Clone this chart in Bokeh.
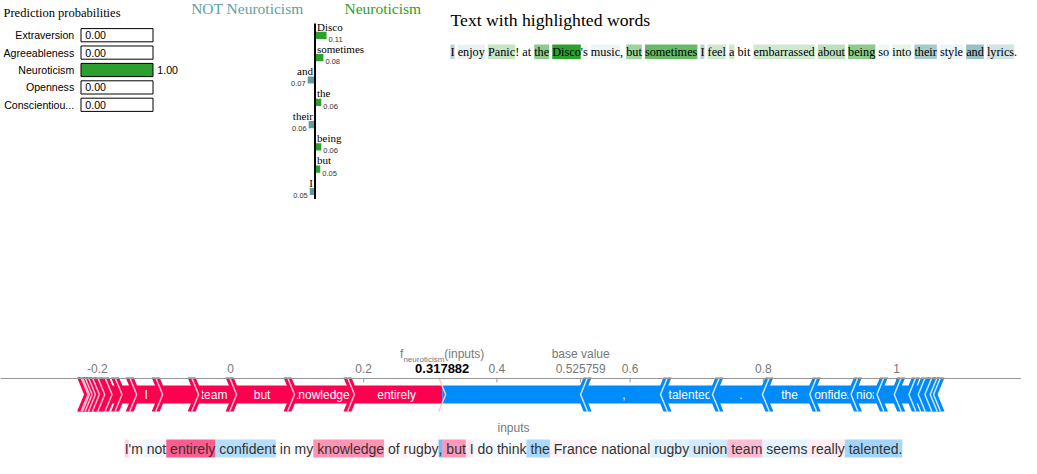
import re
from bokeh.plotting import figure
from bokeh.models import Range1d, Span
from bokeh.embed import file_html
from bokeh.resources import INLINE
from bokeh.core.properties import value

# ---------------- data ----------------
class_names = ["Extraversion", "Agreeableness", "Neuroticism", "Openness", "Conscientiousness"]
class_probs = [0.00, 0.00, 1.00, 0.00, 0.00]
class_colors = ["#1f77b4", "#ff7f0e", "#2ca02c", "#d62728", "#9467bd"]

lime_features = ["Disco", "sometimes", "and", "the", "their", "being", "but", "I"]
lime_weights = [0.11, 0.08, -0.07, 0.06, -0.06, 0.06, 0.05, -0.05]

lime_sentence = ("I enjoy Panic! at the Disco's music, but sometimes I feel a bit "
                 "embarrassed about being so into their style and lyrics.")
lime_text_words = ["I", "enjoy", "Panic", "the", "Disco", "s", "music", "but", "sometimes",
                   "feel", "a", "embarrassed", "about", "being", "so", "into", "their",
                   "style", "and", "lyrics"]
lime_text_weights = [-0.05, -0.015, 0.03, 0.06, 0.11, -0.01, -0.012, 0.05, 0.08,
                     0.025, 0.025, 0.025, 0.035, 0.06, -0.01, 0.012, -0.06,
                     -0.012, -0.07, -0.03]

shap_tokens = ["", "I", "'m", " not", " entirely", " confident", " in", " my", " knowledge",
               " of", " rugby", ",", " but", " I", " do", " think", " the", " France",
               " national", " rugby", " union", " team", " seems", " really", " talented", ".", ""]
shap_values = [0.054, 0.039, 0.006, -0.014, 0.137, -0.062, 0.002, 0.004, 0.090,
               0.005, 0.008, -0.120, 0.087, 0.022, -0.008, -0.010, -0.071, 0.011,
               -0.005, -0.026, -0.039, 0.057, -0.022, 0.015, -0.078, -0.075, -0.213]
shap_base_value = 0.525759
shap_fx = 0.317882
shap_output_name = "neuroticism"
shap_ticks = [-0.2, 0.0, 0.2, 0.4, 0.6, 0.8, 1.0]
shap_tick_labels = ["-0.2", "0", "0.2", "0.4", "0.6", "0.8", "1"]

# ---------------- font metrics (Times / Helvetica compatible) ----------------
TIMES = {' ': 250, '!': 333, "'": 180, ',': 250, '.': 250,
         'a': 444, 'b': 500, 'c': 444, 'd': 500, 'e': 444, 'f': 333, 'g': 500, 'h': 500,
         'i': 278, 'j': 278, 'k': 500, 'l': 278, 'm': 778, 'n': 500, 'o': 500, 'p': 500,
         'q': 500, 'r': 333, 's': 389, 't': 278, 'u': 500, 'v': 500, 'w': 722, 'x': 500,
         'y': 500, 'z': 444, 'A': 722, 'B': 667, 'C': 667, 'D': 722, 'E': 611, 'F': 556,
         'G': 722, 'H': 722, 'I': 333, 'J': 389, 'K': 722, 'L': 611, 'M': 889, 'N': 722,
         'O': 722, 'P': 556, 'Q': 722, 'R': 667, 'S': 556, 'T': 611, 'U': 722, 'V': 722,
         'W': 944, 'X': 722, 'Y': 722, 'Z': 611}
HELV = {' ': 278, '!': 278, "'": 191, ',': 278, '.': 278, '(': 333, ')': 333, '-': 333,
        'a': 556, 'b': 556, 'c': 500, 'd': 556, 'e': 556, 'f': 278, 'g': 556, 'h': 556,
        'i': 222, 'j': 222, 'k': 500, 'l': 222, 'm': 833, 'n': 556, 'o': 556, 'p': 556,
        'q': 556, 'r': 333, 's': 500, 't': 278, 'u': 556, 'v': 500, 'w': 722, 'x': 500,
        'y': 500, 'z': 500, 'A': 667, 'B': 667, 'C': 722, 'D': 722, 'E': 667, 'F': 611,
        'G': 778, 'H': 722, 'I': 278, 'J': 500, 'K': 667, 'L': 556, 'M': 833, 'N': 722,
        'O': 778, 'P': 667, 'Q': 778, 'R': 722, 'S': 667, 'T': 611, 'U': 722, 'V': 667,
        'W': 944, 'X': 667, 'Y': 667, 'Z': 611}
for _d in "0123456789":
    HELV[_d] = 556


def text_w(s, table, size):
    return sum(table.get(c, 500) for c in s) * size / 1000.0


# ---------------- figure ----------------
W, H = 1021, 458
X0, Y0 = 8, 3          # view offset of the layout coordinates
DY = -10               # the force plot sits a little higher
p = figure(width=W, height=H, x_range=Range1d(X0, X0 + W), y_range=Range1d(Y0 + H, Y0),
           output_backend="svg", toolbar_location=None, min_border=0,
           x_axis_type=None, y_axis_type=None)
p.outline_line_color = None
p.background_fill_color = "white"
p.border_fill_color = "white"

SERIF = value("Liberation Serif")
SANS = value("Liberation Sans")

PROB_ORIGIN, PROB_PPU = 88.5, 72.0
LIME_ORIGIN, LIME_PPU = 322.5, 105.0
SHAP_ORIGIN, SHAP_PPU = 238.0, 666.0


def px_range(origin, ppu):
    return Range1d(start=(X0 - origin) / ppu, end=(X0 + W - origin) / ppu)


p.extra_x_ranges = {"prob": px_range(PROB_ORIGIN, PROB_PPU),
                    "lime": px_range(LIME_ORIGIN, LIME_PPU),
                    "shap": px_range(SHAP_ORIGIN, SHAP_PPU)}

# ---------------- LIME: prediction probabilities ----------------
p.text(x=[11], y=[15], text=["Prediction probabilities"], text_font=SERIF,
       text_font_size="12.5px", text_baseline="middle", text_align="left", text_color="black")


def short(name):
    return name if len(name) <= 13 else name[:12] + "..."


nc = len(class_names)
rows = [37.7 + 17.4 * i for i in range(nc)]
p.text(x=[0] * nc, y=rows, text=[short(n) for n in class_names], x_range_name="prob",
       x_offset=-6.8, text_align="right", text_baseline="middle", text_font=SANS,
       text_font_size="10.6px", text_color="black")
p.quad(left=[0] * nc, right=class_probs, top=[y - 6.6 for y in rows],
       bottom=[y + 6.6 for y in rows], x_range_name="prob", fill_color=class_colors,
       line_color=None)
p.quad(left=[0] * nc, right=[1] * nc, top=[y - 6.6 for y in rows],
       bottom=[y + 6.6 for y in rows], x_range_name="prob", fill_color=None,
       line_color="black", line_width=1)
p.text(x=class_probs, y=rows, text=["%.2f" % v for v in class_probs], x_range_name="prob",
       x_offset=4.3, text_align="left", text_baseline="middle", text_font=SANS,
       text_font_size="10.6px", text_color="black")

# ---------------- LIME: feature bars ----------------
NOT_COLOR, POS_COLOR = "#5F9EA0", "#2ca02c"
target = class_names[class_probs.index(max(class_probs))]
p.text(x=[0], y=[11], text=["NOT " + target], x_range_name="lime", x_offset=-11.5,
       text_align="right", text_baseline="middle", text_font=SERIF,
       text_font_size="15.5px", text_color=NOT_COLOR)
p.text(x=[0], y=[11], text=[target], x_range_name="lime", x_offset=29.5,
       text_align="left", text_baseline="middle", text_font=SERIF,
       text_font_size="15.5px", text_color=POS_COLOR)

nf = len(lime_features)
lab_y = [29 + 22.3 * i for i in range(nf)]
bar_top = [34.3 + 22.3 * i for i in range(nf)]
bar_bot = [41.5 + 22.3 * i for i in range(nf)]
p.quad(left=[min(0, w) for w in lime_weights], right=[max(0, w) for w in lime_weights],
       top=bar_top, bottom=bar_bot, x_range_name="lime",
       fill_color=[POS_COLOR if w > 0 else NOT_COLOR for w in lime_weights], line_color=None)
for sign, align, off in ((1, "left", 2), (-1, "right", -2)):
    idx = [i for i, w in enumerate(lime_weights) if (w > 0) == (sign > 0)]
    p.text(x=[0] * len(idx), y=[lab_y[i] for i in idx], text=[lime_features[i] for i in idx],
           x_range_name="lime", x_offset=off, text_align=align, text_baseline="middle",
           text_font=SERIF, text_font_size="11px", text_color="black")
    p.text(x=[lime_weights[i] for i in idx], y=[bar_bot[i] + 0.3 for i in idx],
           text=["%.2f" % abs(lime_weights[i]) for i in idx], x_range_name="lime",
           x_offset=off, text_align=align, text_baseline="alphabetic",
           text_font=SANS, text_font_size="7.5px", text_color="#333333")
p.segment(x0=[0], x1=[0], y0=[lab_y[0] - 3], y1=[bar_bot[-1] + 4], x_range_name="lime",
          line_color="black", line_width=2)

# ---------------- LIME: highlighted text ----------------
TXT_X = 458
p.text(x=[TXT_X], y=[22], text=["Text with highlighted words"], text_font=SERIF,
       text_font_size="17.7px", text_baseline="middle", text_align="left", text_color="black")
LT_SIZE = 12.25
wmap = dict(zip(lime_text_words, lime_text_weights))
wmax = max(abs(w) for w in lime_text_weights)
cx = float(TXT_X)
tx, tt, hl, hr, hc, ha = [], [], [], [], [], []
for tok in re.findall(r"[A-Za-z]+|[^A-Za-z\s]|\s", lime_sentence):
    w = text_w(tok, TIMES, LT_SIZE)
    if not tok.isspace():
        tx.append(cx)
        tt.append(tok)
        if tok in wmap:
            hl.append(cx)
            hr.append(cx + w)
            hc.append(POS_COLOR if wmap[tok] > 0 else NOT_COLOR)
            ha.append(abs(wmap[tok]) / wmax)
    cx += w
p.quad(left=hl, right=hr, top=[47] * len(hl), bottom=[61.5] * len(hl), fill_color=hc,
       fill_alpha=ha, line_color=None)
p.text(x=tx, y=[54.5] * len(tx), text=tt, text_font=SERIF, text_font_size="%.2fpx" % LT_SIZE,
       text_baseline="middle", text_align="left", text_color="black")

# ---------------- SHAP force plot ----------------
RED, BLUE = "#FF0051", "#008BFB"
RED_SEP, BLUE_SEP = "#FFC3D5", "#D0E6FA"
GRAY_LINE, GRAY_TXT = "rgb(150,150,150)", "rgb(120,120,120)"
AXIS_Y, BAR_T, BAR_B, CH_T, CH_B = 391 + DY, 398 + DY, 416 + DY, 390 + DY, 424 + DY
LBL1_Y, LBL2_Y = 366 + DY, 381 + DY
BAR_M = (BAR_T + BAR_B) / 2.0
upp = 1.0 / SHAP_PPU

p.add_layout(Span(location=AXIS_Y, dimension="width", line_color=GRAY_LINE, line_width=1))
p.segment(x0=shap_ticks + [shap_base_value], x1=shap_ticks + [shap_base_value],
          y0=[AXIS_Y] * 8, y1=[AXIS_Y + 4] * 8, x_range_name="shap",
          line_color=GRAY_LINE, line_width=1)
p.text(x=shap_ticks, y=[LBL2_Y] * len(shap_ticks), text=shap_tick_labels, x_range_name="shap",
       text_align="center", text_baseline="middle", text_font=SANS, text_font_size="12px",
       text_color=GRAY_TXT)
p.text(x=[shap_base_value], y=[LBL2_Y], text=["%f" % shap_base_value], x_range_name="shap",
       text_align="center", text_baseline="middle", text_font=SANS, text_font_size="12px",
       text_color=GRAY_TXT)
p.text(x=[shap_base_value], y=[LBL1_Y], text=["base value"], x_range_name="shap",
       text_align="center", text_baseline="middle", text_font=SANS, text_font_size="12px",
       text_color=GRAY_TXT)

wf = text_w("f", HELV, 12)
wsub = text_w(shap_output_name, HELV, 8)
winp = text_w("(inputs)", HELV, 12)
st = -(wf + wsub + winp) / 2.0
p.text(x=[shap_fx], y=[LBL1_Y], text=["f"], x_range_name="shap", x_offset=st,
       text_align="left", text_baseline="middle", text_font=SANS, text_font_size="12px",
       text_color=GRAY_TXT)
p.text(x=[shap_fx], y=[LBL1_Y + 5.5], text=[shap_output_name], x_range_name="shap",
       x_offset=st + wf, text_align="left", text_baseline="middle", text_font=SANS,
       text_font_size="8px", text_color=GRAY_TXT)
p.text(x=[shap_fx], y=[LBL1_Y], text=["(inputs)"], x_range_name="shap",
       x_offset=st + wf + wsub, text_align="left", text_baseline="middle", text_font=SANS,
       text_font_size="12px", text_color=GRAY_TXT)
p.text(x=[shap_fx], y=[LBL2_Y], text=["%f" % shap_fx], x_range_name="shap",
       text_align="center", text_baseline="middle", text_font=SANS, text_font_size="13px",
       text_font_style="bold", text_color="black")

# segments: red grows left of f(x), blue grows right of f(x), largest first
red = sorted([(v, t) for t, v in zip(shap_tokens, shap_values) if v > 0], key=lambda a: -a[0])
blue = sorted([(-v, t) for t, v in zip(shap_tokens, shap_values) if v < 0], key=lambda a: -a[0])
r_l, r_r, r_t = [], [], []
pos = shap_fx
for v, t in red:
    r_r.append(pos)
    pos -= v
    r_l.append(pos)
    r_t.append(t)
b_l, b_r, b_t = [], [], []
pos = shap_fx
for v, t in blue:
    b_l.append(pos)
    pos += v
    b_r.append(pos)
    b_t.append(t)

p.quad(left=r_l, right=r_r, top=[BAR_T] * len(r_l), bottom=[BAR_B] * len(r_l),
       x_range_name="shap", fill_color=RED, line_color=None)
p.quad(left=b_l, right=b_r, top=[BAR_T] * len(b_l), bottom=[BAR_B] * len(b_l),
       x_range_name="shap", fill_color=BLUE, line_color=None)


def clip_label(tok, seg_px):
    s = tok.strip()
    if seg_px < 18:
        return ""
    k = 0
    while s and text_w(s, HELV, 12) > seg_px + 1:
        s = s[1:] if k % 2 == 0 else s[:-1]
        k += 1
    return s


lab_x, lab_t = [], []
for lo, hi, t in list(zip(r_l, r_r, r_t)) + list(zip(b_l, b_r, b_t)):
    s = clip_label(t, (hi - lo) * SHAP_PPU)
    if s:
        lab_x.append((lo + hi) / 2.0)
        lab_t.append(s)
p.text(x=lab_x, y=[BAR_M] * len(lab_x), text=lab_t, x_range_name="shap",
       text_align="center", text_baseline="middle", text_font=SANS, text_font_size="12px",
       text_color="white")


def chevron(b, d):
    xs = [b + o * d * upp for o in (-7.5, 0.5, 7.5, 0.5, -7.5, -0.5)]
    return xs, [CH_T, CH_T, BAR_M, CH_B, CH_B, BAR_M]


def sep(b, d):
    return [b + o * d * upp for o in (-3.5, 3.5, -3.5)], [CH_T, BAR_M, CH_B]


for bounds, d, col, scol in ((r_l, 1, RED, RED_SEP), (b_r, -1, BLUE, BLUE_SEP)):
    cxs, cys, sxs, sys_ = [], [], [], []
    for b in bounds:
        a1, a2 = chevron(b, d)
        cxs.append(a1)
        cys.append(a2)
        s1, s2 = sep(b, d)
        sxs.append(s1)
        sys_.append(s2)
    p.patches(xs=cxs, ys=cys, x_range_name="shap", fill_color=col, line_color=None)
    p.multi_line(xs=sxs, ys=sys_, x_range_name="shap", line_color=scol, line_width=1.5)
fx_x, fx_y = sep(shap_fx, 1)
p.line(x=fx_x, y=fx_y, x_range_name="shap", line_color=RED_SEP, line_width=1.5)

# ---------------- SHAP: highlighted input text ----------------
CENTER = 521.0
ST_SIZE = 14
p.text(x=[CENTER], y=[440 + DY], text=["inputs"], text_align="center", text_baseline="middle",
       text_font=SANS, text_font_size="12px", text_color=GRAY_TXT)
total = sum(text_w(t, HELV, ST_SIZE) for t in shap_tokens)
cx = CENTER - total / 2.0
vmax = max(abs(v) for v in shap_values)
ql, qr, qc, qa, sx, stt = [], [], [], [], [], []
for t, v in zip(shap_tokens, shap_values):
    w = text_w(t, HELV, ST_SIZE)
    if t:
        ql.append(cx)
        qr.append(cx + w)
        qc.append(RED if v > 0 else BLUE)
        qa.append(abs(v) / vmax)
        lead = len(t) - len(t.lstrip(" "))
        sx.append(cx + text_w(" " * lead, HELV, ST_SIZE))
        stt.append(t.strip())
    cx += w
p.quad(left=ql, right=qr, top=[452 + DY] * len(ql), bottom=[470 + DY] * len(ql), fill_color=qc,
       fill_alpha=qa, line_color=None)
p.text(x=sx, y=[461 + DY] * len(sx), text=stt, text_align="left", text_baseline="middle",
       text_font=SANS, text_font_size="%dpx" % ST_SIZE, text_color="#333333")

open("out.html", "w").write(file_html(p, INLINE))
